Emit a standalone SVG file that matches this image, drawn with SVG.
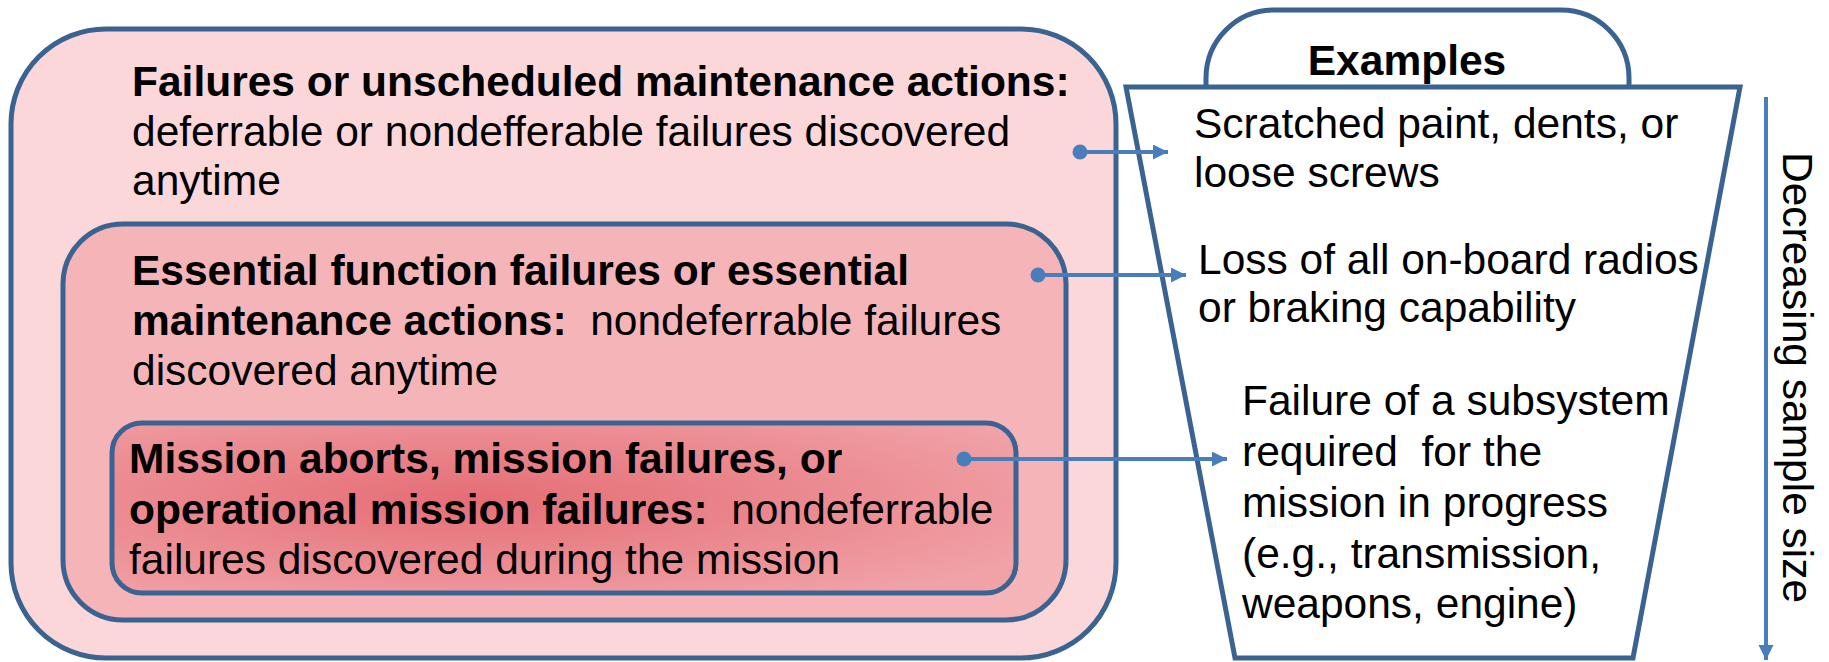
<svg xmlns="http://www.w3.org/2000/svg" width="1829" height="662" viewBox="0 0 1829 662">
<style>
  .box { stroke: #3b6391; stroke-width: 5; }
  .shape { fill: #ffffff; stroke: #3b6391; stroke-width: 5; stroke-linejoin: miter; }
  .t { font-family: "Liberation Sans", Arial, sans-serif; font-size: 42.5px; fill: #000000; white-space: pre; }
  .b { font-weight: bold; }
  .conn { stroke: #4a7ebb; stroke-width: 4; fill: none; }
</style>
<defs>
  <radialGradient id="innerFill" cx="0.4" cy="0.45" r="0.7">
    <stop offset="0" stop-color="#e56d75"/>
    <stop offset="1" stop-color="#f0a2a7"/>
  </radialGradient>
  <marker id="arrow" markerUnits="userSpaceOnUse" markerWidth="16" markerHeight="16" refX="15" refY="7.5" orient="auto">
    <path d="M0,0 L15,7.5 L0,15 Z" fill="#4a7ebb"/>
  </marker>
  <marker id="dot" markerUnits="userSpaceOnUse" markerWidth="16" markerHeight="16" refX="8" refY="8" orient="auto">
    <circle cx="8" cy="8" r="7.5" fill="#4a7ebb"/>
  </marker>
</defs>
<rect width="1829" height="662" fill="#ffffff"/>

<g id="outer-box">
  <rect class="box" x="11" y="29" width="1105" height="629" rx="95" ry="95" fill="#fbd7d9"/>
  <text class="t" x="132" y="96"><tspan class="b">Failures or unscheduled maintenance actions:</tspan></text>
  <text class="t" x="132" y="146">deferrable or nondefferable failures discovered</text>
  <text class="t" x="132" y="195">anytime</text>
</g>

<g id="middle-box">
  <rect class="box" x="63" y="224" width="1003" height="396" rx="60" ry="60" fill="#f5b5b8"/>
  <text class="t" x="132" y="285"><tspan class="b">Essential function failures or essential</tspan></text>
  <text class="t" x="132" y="335" xml:space="preserve"><tspan class="b">maintenance actions:</tspan>  nondeferrable failures</text>
  <text class="t" x="132" y="385">discovered anytime</text>
</g>

<g id="inner-box">
  <rect class="box" x="112" y="423" width="904" height="170" rx="30" ry="30" fill="url(#innerFill)"/>
  <text class="t" x="129" y="473"><tspan class="b">Mission aborts, mission failures, or</tspan></text>
  <text class="t" x="129" y="524" xml:space="preserve"><tspan class="b">operational mission failures:</tspan>  nondeferrable</text>
  <text class="t" x="129" y="574">failures discovered during the mission</text>
</g>

<g id="examples-panel">
  <path class="shape" d="M1206,87 L1206,78 A68,68 0 0 1 1274,10 L1561,10 A68,68 0 0 1 1629,78 L1629,87"/>
  <path class="shape" d="M1126,87 L1740,87 L1633,658 L1235,658 Z"/>
  <text class="t b" x="1407" y="75" text-anchor="middle">Examples</text>
</g>

<g id="example-1">
  <text class="t" x="1194" y="138">Scratched paint, dents, or</text>
  <text class="t" x="1194" y="187">loose screws</text>
</g>

<g id="example-2">
  <text class="t" x="1198" y="274">Loss of all on-board radios</text>
  <text class="t" x="1198" y="322">or braking capability</text>
</g>

<g id="example-3">
  <text class="t" x="1242" y="415">Failure of a subsystem</text>
  <text class="t" x="1242" y="466" xml:space="preserve">required  for the</text>
  <text class="t" x="1242" y="517">mission in progress</text>
  <text class="t" x="1242" y="568">(e.g., transmission,</text>
  <text class="t" x="1242" y="618">weapons, engine)</text>
</g>

<g id="sample-size-label">
  <text class="t" transform="translate(1783,152) rotate(90)">Decreasing sample size</text>
</g>

<g id="connectors">
  <line class="conn" x1="1080" y1="152" x2="1168" y2="152" marker-start="url(#dot)" marker-end="url(#arrow)"/>
  <line class="conn" x1="1038" y1="275" x2="1186" y2="275" marker-start="url(#dot)" marker-end="url(#arrow)"/>
  <line class="conn" x1="964" y1="459" x2="1227" y2="459" marker-start="url(#dot)" marker-end="url(#arrow)"/>
  <line class="conn" x1="1766" y1="97" x2="1766" y2="660" stroke-width="5" marker-end="url(#arrow)"/>
</g>
</svg>
